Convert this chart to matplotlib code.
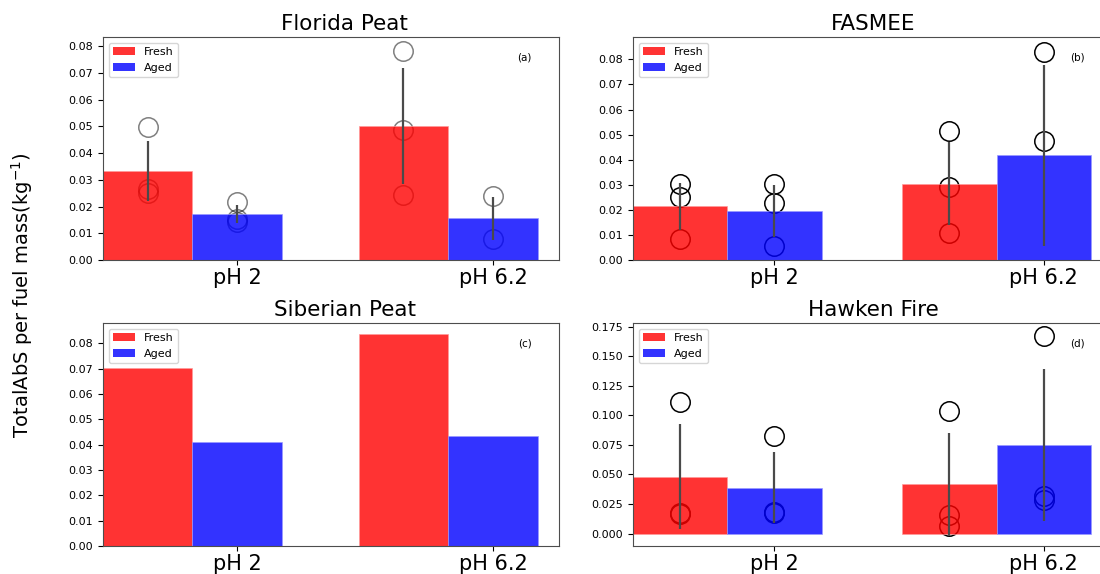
import numpy as np
import matplotlib
matplotlib.use('agg')
import matplotlib.pyplot as plt
from matplotlib.patches import Patch

groups = ["pH 2", "pH 6.2"]
panels = ["Florida Peat", "FASMEE", "Siberian Peat", "Hawken Fire"]
tags = ["(a)", "(b)", "(c)", "(d)"]

# bar heights (fresh, aged) for pH 2 and pH 6.2
florida_fresh = [0.0333, 0.0502]
florida_aged = [0.0172, 0.0156]
fasmee_fresh = [0.0214, 0.0304]
fasmee_aged = [0.0195, 0.0417]
siberian_fresh = [0.0703, 0.0836]
siberian_aged = [0.0409, 0.0433]
hawken_fresh = [0.0482, 0.0417]
hawken_aged = [0.0389, 0.0752]

# error bar half-widths
florida_fresh_err = [0.0114, 0.0218]
florida_aged_err = [0.0032, 0.0080]
fasmee_fresh_err = [0.0094, 0.0165]
fasmee_aged_err = [0.0105, 0.0360]
hawken_fresh_err = [0.0441, 0.0436]
hawken_aged_err = [0.0302, 0.0641]

# individual samples
florida_fresh_pts = [[0.0496, 0.0264, 0.0249], [0.0781, 0.0486, 0.0244]]
florida_aged_pts = [[0.0218, 0.0153, 0.0143], [0.0238, 0.0077]]
fasmee_fresh_pts = [[0.0304, 0.0251, 0.0085], [0.0516, 0.0292, 0.0108]]
fasmee_aged_pts = [[0.0304, 0.0229, 0.0054], [0.0831, 0.0473, -0.0053]]
hawken_fresh_pts = [[0.1110, 0.0178, 0.0166], [0.1037, 0.0158, 0.0065]]
hawken_aged_pts = [[0.0828, 0.0186, 0.0172], [0.1671, 0.0321, 0.0285]]

fresh = [florida_fresh, fasmee_fresh, siberian_fresh, hawken_fresh]
aged = [florida_aged, fasmee_aged, siberian_aged, hawken_aged]
fresh_err = [florida_fresh_err, fasmee_fresh_err, None, hawken_fresh_err]
aged_err = [florida_aged_err, fasmee_aged_err, None, hawken_aged_err]
fresh_pts = [florida_fresh_pts, fasmee_fresh_pts, None, hawken_fresh_pts]
aged_pts = [florida_aged_pts, fasmee_aged_pts, None, hawken_aged_pts]

ylims = [(0, 0.0834), (0, 0.0889), (0, 0.088), (-0.0104, 0.178)]
ystep = [0.01, 0.01, 0.01, 0.025]
ytop = [0.08, 0.08, 0.08, 0.175]
title_x = [0.53, 0.5, 0.53, 0.5]
pt_alpha = [0.5, 1, 1, 1]

# axes rectangles in figure fraction
rects = [[0.0936, 0.547, 0.4145, 0.3885],
         [0.5755, 0.547, 0.4364, 0.3885],
         [0.0936, 0.0488, 0.4145, 0.3885],
         [0.5755, 0.0488, 0.4364, 0.3885]]

w = 0.35
ind = np.arange(len(groups))

fig = plt.figure(figsize=(11, 5.74), dpi=100)

for i in range(4):
    ax = fig.add_axes(rects[i])
    # samples are drawn beneath the bars
    for j in range(len(groups)):
        if fresh_pts[i] is not None:
            ax.plot([ind[j]] * len(fresh_pts[i][j]), fresh_pts[i][j], 'o', ms=14,
                    mfc='none', mec='black', mew=1.1, alpha=pt_alpha[i], zorder=1)
            ax.plot([ind[j] + w] * len(aged_pts[i][j]), aged_pts[i][j], 'o', ms=14,
                    mfc='none', mec='black', mew=1.1, alpha=pt_alpha[i], zorder=1)
    ax.bar(ind, fresh[i], w, color='red', alpha=0.8, edgecolor='#ff9999',
           linewidth=0.6, zorder=2)
    ax.bar(ind + w, aged[i], w, color='blue', alpha=0.8, edgecolor='#9999ff',
           linewidth=0.6, zorder=2)
    if fresh_err[i] is not None:
        ax.errorbar(ind, fresh[i], yerr=fresh_err[i], fmt='none', ecolor='#4a4a4a',
                    elinewidth=1.6, capsize=0, zorder=3)
        ax.errorbar(ind + w, aged[i], yerr=aged_err[i], fmt='none', ecolor='#4a4a4a',
                    elinewidth=1.6, capsize=0, zorder=3)

    ax.set_xlim(-0.175, 1.608)
    ax.set_ylim(*ylims[i])
    ax.set_yticks(np.arange(0, ytop[i] + ystep[i] / 2, ystep[i]))
    ax.set_xticks(ind + w)
    ax.set_xticklabels(groups)
    ax.tick_params(axis='x', labelsize=15, pad=2)
    ax.tick_params(axis='y', labelsize=8)
    for sp in ax.spines.values():
        sp.set_color('0.3')
    ax.set_title(panels[i], fontsize=15.5, x=title_x[i], pad=5)
    ax.text(0.925, 0.91, tags[i], transform=ax.transAxes, fontsize=7.5,
            ha='center', va='center')
    handles = [Patch(facecolor='red', alpha=0.8), Patch(facecolor='blue', alpha=0.8)]
    ax.legend(handles, ['Fresh', 'Aged'], loc='upper left', fontsize=8)

fig.text(0.02, 0.486, 'TotalAbS per fuel mass(kg$^{-1}$)', rotation=90,
         fontsize=14, ha='center', va='center')

fig.savefig('out.png', dpi=100)
plt.close()
